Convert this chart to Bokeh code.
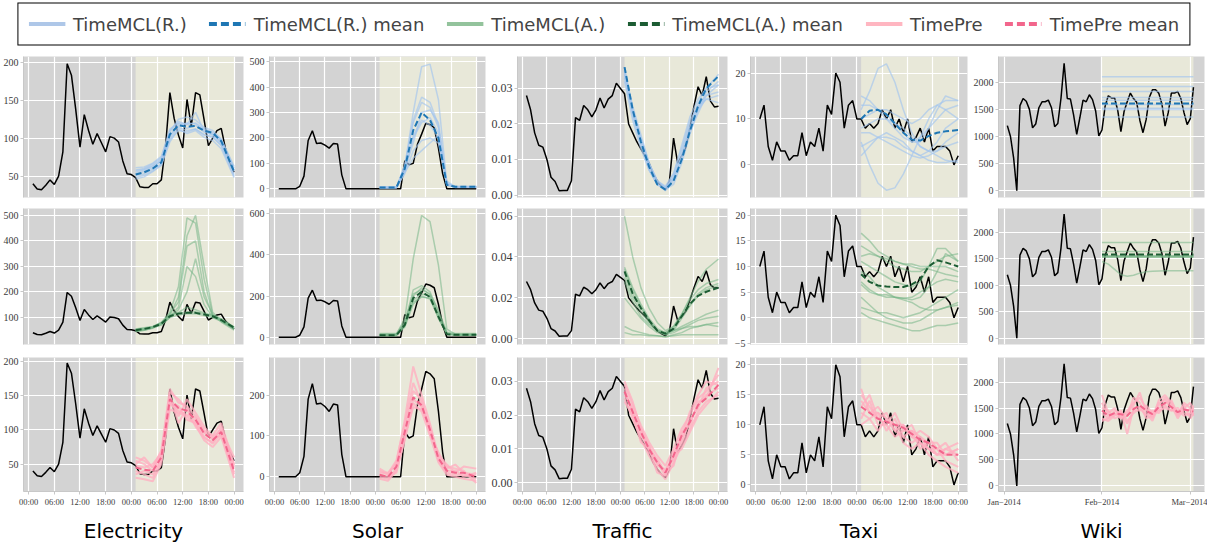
from bokeh.plotting import figure
from bokeh.models import Range1d, BoxAnnotation, FixedTicker, Legend, LegendItem
from bokeh.layouts import column, row
from bokeh.embed import file_html
from bokeh.resources import INLINE

# ---------------- names ----------------
dataset_names = ["Electricity", "Solar", "Traffic", "Taxi", "Wiki"]
method_names = ["TimeMCL(R.)", "TimeMCL(A.)", "TimePre"]

# ---------------- shared x values ----------------
hist_hours = list(range(1, 25))
future_hours = list(range(25, 49))
sample_hours = [25, 27, 29, 31, 33, 35, 37, 39, 41, 43, 45, 48]
hour_ticks = [0, 6, 12, 18, 24, 30, 36, 42, 48]
hour_tick_labels = ["00:00", "06:00", "12:00", "18:00", "00:00", "06:00", "12:00", "18:00", "00:00"]

wiki_hist_days = list(range(1, 32))
wiki_future_days = list(range(32, 61))
wiki_sample_days = [31, 33, 35, 37, 39, 41, 43, 45, 47, 49, 51, 53, 55, 57, 59, 60]
wiki_ticks = [0, 31, 59]
wiki_tick_labels = ["Jan\u22122014", "Feb\u22122014", "Mar\u22122014"]

# ---------------- Electricity ----------------
elec_hist = [40, 33, 32, 38, 45, 39, 50, 82, 198, 183, 138, 88, 131, 110, 92, 106, 94, 82, 102, 100, 95, 70, 53, 52]
elec_future = [48, 36, 35, 35, 40, 40, 45, 90, 160, 126, 104, 87, 151, 116, 160, 157, 124, 90, 100, 110, 113, 86, 68, 55]
elec_r_mean = [52, 55, 60, 68, 105, 117, 115, 116, 110, 107, 96, 56]
elec_r_samples = [
    [58, 60, 66, 74, 110, 122, 118, 120, 112, 108, 98, 60],
    [48, 51, 57, 65, 100, 114, 110, 112, 105, 102, 90, 50],
    [55, 58, 63, 70, 108, 125, 128, 124, 114, 110, 99, 63],
    [50, 53, 59, 66, 98, 110, 108, 112, 104, 101, 91, 52],
    [61, 62, 67, 76, 112, 120, 118, 134, 109, 105, 93, 58],
    [46, 49, 56, 64, 95, 112, 106, 110, 101, 97, 86, 48],
    [53, 56, 61, 70, 104, 119, 113, 117, 108, 104, 95, 56],
    [57, 59, 64, 72, 103, 116, 120, 119, 111, 106, 97, 61],
]
elec_a_mean = [50, 55, 62, 75, 105, 115, 118, 118, 112, 105, 90, 60]
elec_a_samples = [
    [45, 50, 60, 70, 100, 110, 115, 115, 108, 100, 85, 55],
    [55, 60, 65, 80, 110, 120, 140, 130, 118, 110, 95, 62],
    [50, 55, 62, 78, 110, 180, 420, 500, 300, 120, 85, 58],
    [52, 56, 63, 80, 120, 220, 490, 470, 250, 110, 90, 60],
    [48, 52, 60, 75, 115, 160, 380, 400, 200, 105, 88, 55],
    [50, 54, 62, 76, 105, 140, 300, 260, 150, 100, 90, 60],
    [46, 50, 58, 72, 100, 130, 200, 330, 180, 110, 82, 50],
    [54, 58, 64, 78, 108, 118, 120, 122, 114, 106, 92, 62],
]
elec_p_mean = [45, 42, 40, 60, 145, 132, 128, 115, 95, 85, 97, 40]
elec_p_samples = [
    [60, 55, 45, 70, 160, 140, 135, 120, 100, 92, 110, 50],
    [30, 28, 25, 50, 130, 125, 120, 108, 85, 75, 90, 30],
    [55, 50, 40, 65, 150, 120, 145, 125, 105, 90, 100, 45],
    [40, 35, 30, 55, 140, 135, 115, 110, 90, 80, 95, 35],
    [50, 60, 45, 62, 155, 145, 130, 105, 88, 82, 105, 48],
    [35, 40, 35, 58, 138, 128, 122, 118, 98, 88, 92, 38],
    [48, 45, 50, 66, 148, 110, 132, 112, 96, 86, 100, 60],
]

# ---------------- Solar ----------------
solar_hist = [0, 0, 0, 0, 0, 10, 50, 190, 228, 178, 180, 172, 160, 178, 176, 55, 0, 0, 0, 0, 0, 0, 0, 0]
solar_future = [0, 0, 0, 0, 0, 0, 110, 95, 100, 175, 215, 258, 252, 240, 160, 60, 0, 0, 0, 0, 0, 0, 0, 0]
solar_r_mean = [5, 5, 5, 80, 230, 300, 270, 200, 15, 8, 8, 8]
solar_r_samples = [
    [3, 3, 4, 90, 300, 480, 490, 350, 20, 5, 5, 5],
    [5, 5, 6, 85, 270, 360, 340, 250, 15, 8, 8, 8],
    [8, 8, 8, 70, 200, 260, 280, 220, 20, 10, 10, 10],
    [5, 5, 5, 60, 150, 190, 200, 180, 15, 8, 8, 8],
    [4, 4, 4, 75, 180, 300, 310, 260, 25, 6, 6, 6],
    [6, 6, 6, 65, 120, 150, 180, 210, 30, 8, 8, 8],
    [5, 5, 5, 95, 260, 340, 320, 240, 18, 7, 7, 7],
    [5, 5, 5, 70, 210, 270, 250, 200, 15, 8, 8, 8],
]
solar_a_mean = [10, 10, 10, 60, 190, 220, 195, 100, 15, 12, 12, 12]
solar_a_samples = [
    [15, 15, 15, 90, 380, 590, 560, 350, 40, 15, 15, 15],
    [12, 12, 12, 70, 230, 250, 220, 120, 20, 12, 12, 12],
    [8, 8, 8, 55, 180, 210, 200, 110, 15, 10, 10, 10],
    [10, 10, 10, 60, 200, 240, 205, 90, 18, 12, 12, 12],
    [14, 14, 14, 65, 170, 195, 190, 105, 20, 14, 14, 14],
    [10, 10, 10, 50, 160, 200, 185, 95, 15, 10, 10, 10],
    [18, 18, 18, 75, 210, 230, 210, 130, 25, 18, 18, 18],
]
solar_p_mean = [5, 0, 25, 110, 195, 175, 115, 45, 15, 10, 10, 0]
solar_p_samples = [
    [15, 5, 35, 140, 270, 200, 130, 50, 25, 20, 15, -15],
    [-5, -10, 15, 90, 180, 160, 100, 35, 5, 0, -5, -10],
    [10, 10, 30, 120, 210, 190, 110, 55, 30, 10, 25, 20],
    [0, -5, 20, 100, 170, 165, 125, 40, 10, 5, 5, -5],
    [20, 8, 40, 130, 230, 180, 105, 60, 20, 30, 10, 5],
    [5, 0, 10, 95, 190, 170, 120, 45, 15, 15, 0, 10],
]

# ---------------- Traffic ----------------
traffic_hist = [0.028, 0.024, 0.0175, 0.014, 0.0135, 0.010, 0.005, 0.0038, 0.0012, 0.0013, 0.0013, 0.004,
                0.0218, 0.021, 0.0252, 0.024, 0.022, 0.024, 0.0273, 0.0245, 0.027, 0.028, 0.0315, 0.030]
traffic_future = [0.0285, 0.020, 0.0175, 0.015, 0.013, 0.011, 0.009, 0.006, 0.004, 0.0025, 0.0015, 0.004,
                  0.016, 0.009, 0.011, 0.0135, 0.019, 0.025, 0.0305, 0.028, 0.0333, 0.0265, 0.0248, 0.025]
traffic_r_mean = [0.036, 0.024, 0.015, 0.008, 0.003, 0.0015, 0.004, 0.010, 0.018, 0.025, 0.030, 0.0335]
traffic_r_samples = [
    [0.034, 0.023, 0.016, 0.009, 0.004, 0.002, 0.005, 0.012, 0.020, 0.026, 0.030, 0.034],
    [0.033, 0.022, 0.014, 0.007, 0.003, 0.0012, 0.004, 0.011, 0.019, 0.024, 0.027, 0.028],
    [0.035, 0.025, 0.017, 0.009, 0.004, 0.002, 0.006, 0.013, 0.021, 0.025, 0.027, 0.026],
    [0.032, 0.021, 0.013, 0.007, 0.003, 0.0018, 0.005, 0.011, 0.018, 0.023, 0.028, 0.031],
    [0.036, 0.024, 0.015, 0.008, 0.003, 0.0015, 0.003, 0.009, 0.017, 0.024, 0.029, 0.032],
    [0.034, 0.023, 0.015, 0.008, 0.0035, 0.002, 0.0045, 0.010, 0.019, 0.025, 0.028, 0.029],
    [0.035, 0.024, 0.016, 0.009, 0.004, 0.0025, 0.006, 0.014, 0.022, 0.027, 0.030, 0.031],
]
traffic_a_mean = [0.033, 0.022, 0.015, 0.009, 0.004, 0.0025, 0.005, 0.011, 0.017, 0.021, 0.023, 0.025]
traffic_a_samples = [
    [0.060, 0.040, 0.025, 0.015, 0.008, 0.004, 0.006, 0.012, 0.020, 0.028, 0.034, 0.039],
    [0.035, 0.025, 0.017, 0.010, 0.005, 0.003, 0.006, 0.012, 0.019, 0.024, 0.027, 0.029],
    [0.032, 0.022, 0.015, 0.009, 0.004, 0.002, 0.005, 0.011, 0.017, 0.022, 0.025, 0.027],
    [0.030, 0.020, 0.013, 0.008, 0.004, 0.003, 0.004, 0.006, 0.008, 0.010, 0.012, 0.014],
    [0.020, 0.015, 0.010, 0.006, 0.003, 0.002, 0.003, 0.005, 0.007, 0.009, 0.010, 0.011],
    [0.006, 0.004, 0.003, 0.002, 0.0015, 0.001, 0.002, 0.003, 0.005, 0.006, 0.007, 0.008],
    [0.028, 0.018, 0.011, 0.007, 0.004, 0.003, 0.004, 0.005, 0.006, 0.006, 0.007, 0.006],
    [0.003, 0.002, 0.002, 0.0015, 0.0015, 0.001, 0.0015, 0.002, 0.002, 0.002, 0.002, 0.002],
    [0.034, 0.024, 0.016, 0.009, 0.004, 0.002, 0.004, 0.010, 0.016, 0.021, 0.024, 0.026],
]
traffic_p_mean = [0.027, 0.021, 0.015, 0.010, 0.006, 0.003, 0.008, 0.014, 0.018, 0.023, 0.025, 0.029]
traffic_p_samples = [
    [0.029, 0.023, 0.017, 0.012, 0.008, 0.005, 0.010, 0.016, 0.020, 0.025, 0.027, 0.032],
    [0.025, 0.019, 0.013, 0.008, 0.004, 0.001, 0.006, 0.011, 0.016, 0.021, 0.024, 0.026],
    [0.028, 0.020, 0.016, 0.010, 0.007, 0.003, 0.009, 0.013, 0.019, 0.022, 0.028, 0.030],
    [0.026, 0.022, 0.014, 0.011, 0.005, 0.004, 0.007, 0.015, 0.017, 0.024, 0.025, 0.034],
    [0.027, 0.021, 0.015, 0.009, 0.006, 0.002, 0.008, 0.012, 0.018, 0.023, 0.026, 0.028],
    [0.030, 0.024, 0.016, 0.011, 0.006, 0.003, 0.005, 0.014, 0.021, 0.026, 0.030, 0.029],
    [0.024, 0.020, 0.012, 0.010, 0.003, 0.002, 0.008, 0.010, 0.015, 0.020, 0.023, 0.027],
]

# ---------------- Taxi ----------------
taxi_hist = [10, 13, 4, 1, 5, 3, 3, 1, 2, 2, 7, 2, 5, 4, 8, 3, 13, 11, 20, 18, 8, 13, 14, 10]
taxi_future = [10, 8, 9, 8, 9, 12, 10, 12, 8, 10, 7, 10, 5, 6, 8, 5, 8, 3, 4, 4, 4, 3, 0, 2]
taxi_r_mean = [10, 11.8, 12, 11, 9, 7, 5.5, 5.3, 6.3, 7, 7.3, 7.6]
taxi_r_samples = [
    [12, 16, 21, 22, 18, 12, 7, 4, 3, 3, 4, 5],
    [5, 0, -4, -5.5, -5, -2, 2, 6, 10, 13, 14, 14],
    [13, 13, 12, 11, 9, 7, 5, 5, 8, 12, 15, 14],
    [8, 9, 10, 10, 9, 8, 6, 4, 3, 2, 1, 0.5],
    [2, 4, 6, 7, 6, 5, 3, 2, 3, 5, 8, 10],
    [10, 11, 12, 12, 11, 10, 9, 10, 12, 13, 12, 10],
    [7, 7, 6, 5, 4, 3, 2, 1.5, 2, 3, 5, 7],
    [15, 14, 12, 10, 8, 6, 5, 6, 8, 10, 12, 13],
    [4, 5, 6, 6, 5.5, 4, 3, 2, 1, 0.5, 0.5, 1],
]
taxi_a_mean = [8.5, 7, 6.3, 6.1, 6, 6, 6.5, 7.5, 10, 11.2, 10.8, 10]
taxi_a_samples = [
    [16.5, 15, 13, 12, 11, 10.5, 10, 9.5, 9.5, 9, 8.5, 8],
    [7, 5.5, 4.5, 4, 4, 3.8, 3.5, 4, 6, 9, 12.5, 11],
    [11, 10, 9, 8, 7, 6.5, 6, 7, 10, 13.5, 13.5, 11],
    [12, 12.5, 12, 11, 10, 9.5, 9, 9, 10, 11, 12, 12.5],
    [4, 2.5, 1, 0, -0.5, -1, -1, -0.5, 0.5, 1.5, 2, 2.5],
    [1, 0, -0.5, -1, -1.5, -2, -2.5, -2.5, -2, -1.5, -1.5, -1],
    [9, 8, 6, 5, 4, 3.5, 3, 2, 1.5, 1.5, 2, 3],
    [14, 13, 12, 11.5, 11, 10.5, 10.5, 10, 10, 10, 10, 9],
    [2, 1.5, 1, 1, 0.5, 0, 0.5, 1, 2, 3, 4, 5.5],
    [6.5, 5, 4.5, 4.5, 4, 3.8, 4, 5, 6, 7, 7.5, 7],
]
taxi_p_mean = [13, 12, 11, 10.5, 10, 9.5, 8.5, 7.5, 7, 6, 5, 5]
taxi_p_samples = [
    [15, 13, 11, 12, 9, 10, 8, 7, 6, 6, 4, 3],
    [12, 11, 12, 9, 11, 8, 7, 8, 6, 5, 6, 5],
    [11, 14, 10, 10, 8, 9, 9, 6, 7, 5, 5, 6],
    [14, 12, 13, 11, 10, 10, 8, 9, 8, 6, 7, 4],
    [13, 15, 11, 10, 12, 9, 10, 7, 5, 4, 3, 2],
    [16, 12, 12, 11, 9, 8, 9, 8, 7, 7, 5, 6],
    [10, 11, 9, 11, 10, 7, 6, 7, 6, 5, 6, 7],
]

# ---------------- Wiki ----------------
wiki_hist = [1200, 1000, 600, 0, 1570, 1700, 1650, 1500, 1160, 1230, 1530, 1640, 1640, 1670, 1530, 1180,
             1240, 1700, 2350, 1700, 1690, 1400, 1040, 1350, 1670, 1640, 1770, 1680, 1470, 1010, 1120]
wiki_future = [1560, 1750, 1710, 1710, 1480, 1090, 1460, 1640, 1800, 1700, 1630, 1300, 1070, 1310, 1720,
               1860, 1860, 1800, 1600, 1190, 1440, 1800, 1800, 1830, 1700, 1440, 1220, 1330, 1910]
wiki_r_levels = [2100, 1920, 1830, 1720, 1670, 1590, 1520, 1500, 1360]
wiki_r_mean_level = 1610
wiki_a_levels = [1810, 1640, 1560, 1550, 1540, 1530]
wiki_a_mean_level = 1585
wiki_a_samples = [
    [1450, 1400, 1300, 1200, 1170, 1190, 1230, 1255, 1265, 1270, 1275, 1275, 1275, 1275, 1275, 1275],
]
wiki_p_mean = [1450, 1350, 1400, 1380, 1350, 1480, 1550, 1450, 1380, 1520, 1600, 1520, 1420, 1470, 1450, 1430]
wiki_p_samples = [
    [1750, 1400, 1500, 1300, 1450, 1600, 1700, 1500, 1300, 1650, 1750, 1600, 1350, 1600, 1500, 1350],
    [1300, 1250, 1350, 1450, 1250, 1400, 1500, 1350, 1450, 1400, 1550, 1450, 1500, 1400, 1350, 1550],
    [1500, 1450, 1300, 1350, 1400, 1550, 1800, 1400, 1250, 1550, 1700, 1550, 1300, 1500, 1600, 1450],
    [1400, 1300, 1450, 1400, 1200, 1450, 1450, 1550, 1400, 1450, 1500, 1450, 1450, 1350, 1400, 1500],
    [1600, 1350, 1400, 1300, 1350, 1700, 1600, 1300, 1350, 1600, 1650, 1500, 1400, 1550, 1300, 1400],
    [1250, 1300, 1380, 1420, 1000, 1500, 1520, 1480, 1330, 1480, 1580, 1650, 1380, 1450, 1480, 1380],
]

# ---------------- y ticks per panel ----------------
elec_ticks_13 = [50, 100, 150, 200]
elec_ticks_2 = [100, 200, 300, 400, 500]
solar_ticks_1 = [0, 100, 200, 300, 400, 500]
solar_ticks_2 = [0, 200, 400, 600]
solar_ticks_3 = [0, 100, 200]
traffic_ticks_13 = [0.0, 0.01, 0.02, 0.03]
traffic_ticks_2 = [0.0, 0.02, 0.04, 0.06]
taxi_ticks_1 = [0, 10, 20]
taxi_ticks_2 = [-5, 0, 5, 10, 15, 20]
taxi_ticks_3 = [0, 5, 10, 15, 20]
wiki_ticks_y = [0, 500, 1000, 1500, 2000]

# ---------------- styles ----------------
GRAY = "#d3d3d3"
BEIGE = "#e8e8d9"
STY = {
    "R": dict(col="#a3c5ee", mcol="#1f77b4", w=1.5, a=0.65, lg="#aec7e8"),
    "A": dict(col="#74b487", mcol="#1c5c33", w=1.5, a=0.55, lg="#93c39c"),
    "P": dict(col="#ffafc0", mcol="#f2668c", w=2.0, a=0.8, lg="#ffb6c1"),
}
TICK_FONT = "Liberation Serif"


def fmt_int(t):
    return str(int(t)).replace("-", "\u2212")


def fmt_2(t):
    return f"{t:.2f}"


def make_panel(width, height, xr, yr, yticks, yfmt, xticks, xlabels, show_x,
               truth_x, truth_y, fc_left, fc_right, method,
               samp_x=None, samples=(), mean_y=None,
               flat_x=None, flat_levels=(), flat_mean=None,
               title=None, ysize="10px", top=8, bottom=4):
    kw = dict(width=width, height=height, x_range=Range1d(*xr), y_range=Range1d(*yr),
              output_backend="svg", toolbar_location=None,
              min_border_left=20, min_border_right=3, min_border_top=top, min_border_bottom=bottom,
              background_fill_color=GRAY, border_fill_color="white", outline_line_color=None)
    if title is not None:
        kw.update(title=title, title_location="below")
    p = figure(**kw)
    if title is not None:
        p.title.align = "center"
        p.title.text_font = "DejaVu Sans"
        p.title.text_font_size = "20px"
        p.title.text_font_style = "normal"
        p.title.text_color = "black"
        p.title.standoff = 14

    p.xaxis.ticker = FixedTicker(ticks=xticks)
    p.xaxis.major_label_overrides = {t: l for t, l in zip(xticks, xlabels)}
    p.yaxis.ticker = FixedTicker(ticks=yticks)
    p.yaxis.major_label_overrides = {t: yfmt(t) for t in yticks}
    for ax in (p.xaxis[0], p.yaxis[0]):
        ax.axis_line_color = "#c8c8c8"
        ax.major_tick_line_color = "#c8c8c8"
        ax.major_tick_out = 3
        ax.major_tick_in = 0
        ax.minor_tick_line_color = None
        ax.major_label_text_font = TICK_FONT
        ax.major_label_text_color = "#3a3a3a"
        ax.major_label_standoff = 2
    p.yaxis.major_label_text_font_size = ysize
    p.xaxis.major_label_text_font_size = "8.5px"
    if not show_x:
        p.xaxis.visible = False
    p.grid.grid_line_color = "white"
    p.grid.grid_line_width = 1.2

    p.add_layout(BoxAnnotation(left=fc_left, right=fc_right, fill_color=BEIGE, fill_alpha=1.0,
                               line_alpha=0, level="image"))

    p.line(truth_x, truth_y, line_color="black", line_width=1.5)

    st = STY[method]
    for lv in flat_levels:
        p.line([flat_x[0], flat_x[-1]], [lv, lv], line_color=st["col"], line_width=st["w"], line_alpha=st["a"])
    if samples:
        p.multi_line([samp_x] * len(samples), [list(s) for s in samples],
                     line_color=st["col"], line_width=st["w"], line_alpha=st["a"])
    if mean_y is not None:
        p.line(samp_x, mean_y, line_color=st["mcol"], line_width=2, line_dash="6 3")
    if flat_mean is not None:
        p.line([flat_x[0], flat_x[-1]], [flat_mean, flat_mean], line_color=st["mcol"],
               line_width=2, line_dash="6 3")
    return p


hour_x = hist_hours + future_hours
wiki_x = wiki_hist_days + wiki_future_days
HX = (-1.2, 50.2)
WX = (-1.8, 63.5)
widths = [246, 242, 242, 240, 237]
heights = [154, 148, 200]
tops = [9, 7, 8]
bottoms = [4, 5, 54]

rows = [[], [], []]
e_truth = elec_hist + elec_future
cfg_e = [((21.8, 207.6), elec_ticks_13, "R", elec_r_samples, elec_r_mean),
         ((-6, 527), elec_ticks_2, "A", elec_a_samples, elec_a_mean),
         ((10, 206), elec_ticks_13, "P", elec_p_samples, elec_p_mean)]
s_truth = solar_hist + solar_future
cfg_s = [((-34, 520), solar_ticks_1, "R", solar_r_samples, solar_r_mean),
         ((-35, 624), solar_ticks_2, "A", solar_a_samples, solar_a_mean),
         ((-36, 292), solar_ticks_3, "P", solar_p_samples, solar_p_mean)]
t_truth = traffic_hist + traffic_future
cfg_t = [((-0.0007, 0.039), traffic_ticks_13, "R", traffic_r_samples, traffic_r_mean),
         ((-0.0028, 0.0637), traffic_ticks_2, "A", traffic_a_samples, traffic_a_mean),
         ((-0.0026, 0.0371), traffic_ticks_13, "P", traffic_p_samples, traffic_p_mean)]
x_truth = taxi_hist + taxi_future
cfg_x = [((-7.1, 23.6), taxi_ticks_1, "R", taxi_r_samples, taxi_r_mean),
         ((-5.2, 21.3), taxi_ticks_2, "A", taxi_a_samples, taxi_a_mean),
         ((-1.1, 21.2), taxi_ticks_3, "P", taxi_p_samples, taxi_p_mean)]

for ci, (cfg, truth, yfmt, ysz) in enumerate([(cfg_e, e_truth, fmt_int, "10px"),
                                              (cfg_s, s_truth, fmt_int, "10px"),
                                              (cfg_t, t_truth, fmt_2, "12px"),
                                              (cfg_x, x_truth, fmt_int, "10px")]):
    for ri, (yr, yt, m, samps, mean) in enumerate(cfg):
        last = ri == 2
        p = make_panel(widths[ci], heights[ri], HX, yr, yt, yfmt, hour_ticks, hour_tick_labels, last,
                       hour_x, truth, future_hours[0], future_hours[-1], m,
                       samp_x=sample_hours, samples=samps, mean_y=mean,
                       title=dataset_names[ci] if last else None, ysize=ysz,
                       top=tops[ri], bottom=bottoms[ri])
        rows[ri].append(p)

w_truth = wiki_hist + wiki_future
rows[0].append(make_panel(widths[4], heights[0], WX, (-125, 2475), wiki_ticks_y, fmt_int, wiki_ticks,
                          wiki_tick_labels, False, wiki_x, w_truth, wiki_sample_days[0], wiki_sample_days[-1], "R",
                          flat_x=wiki_sample_days, flat_levels=wiki_r_levels, flat_mean=wiki_r_mean_level,
                          top=tops[0], bottom=bottoms[0]))
rows[1].append(make_panel(widths[4], heights[1], WX, (-120, 2453), wiki_ticks_y, fmt_int, wiki_ticks,
                          wiki_tick_labels, False, wiki_x, w_truth, wiki_sample_days[0], wiki_sample_days[-1], "A",
                          samp_x=wiki_sample_days, samples=wiki_a_samples,
                          flat_x=wiki_sample_days, flat_levels=wiki_a_levels, flat_mean=wiki_a_mean_level,
                          top=tops[1], bottom=bottoms[1]))
rows[2].append(make_panel(widths[4], heights[2], WX, (-107, 2472), wiki_ticks_y, fmt_int, wiki_ticks,
                          wiki_tick_labels, True, wiki_x, w_truth, wiki_sample_days[0], wiki_sample_days[-1], "P",
                          samp_x=wiki_sample_days, samples=wiki_p_samples, mean_y=wiki_p_mean,
                          title=dataset_names[4], top=tops[2], bottom=bottoms[2]))

# ---------------- legend strip ----------------
lg = figure(width=sum(widths), height=47, x_range=Range1d(0, 1), y_range=Range1d(0, 1),
            x_axis_type=None, y_axis_type=None, output_backend="svg", toolbar_location=None,
            min_border=0, outline_line_color=None, background_fill_color="white")
lg.grid.visible = False
# off-screen stand-ins: they only lend their style to the legend swatches
off_x = [5, 6]
off_y = [5, 6]
items = []
for key, name in zip(["R", "A", "P"], method_names):
    st = STY[key]
    r1 = lg.line(off_x, off_y, line_color=st["lg"], line_width=4)
    r2 = lg.line(off_x, off_y, line_color=st["mcol"], line_width=4, line_dash="8 4")
    items.append(LegendItem(label=name, renderers=[r1]))
    items.append(LegendItem(label=name + " mean", renderers=[r2]))
legend = Legend(items=items, orientation="horizontal", location="center",
                border_line_color="black", border_line_width=1.5, border_line_alpha=1,
                label_text_font="DejaVu Sans", label_text_font_size="18px",
                glyph_width=37, glyph_height=18, label_standoff=8, spacing=22,
                padding=10, margin=0, background_fill_color="white", background_fill_alpha=1)
lg.add_layout(legend, "center")

layout = column(lg, row(*rows[0]), row(*rows[1]), row(*rows[2]))
open("out.html", "w").write(file_html(layout, INLINE))
